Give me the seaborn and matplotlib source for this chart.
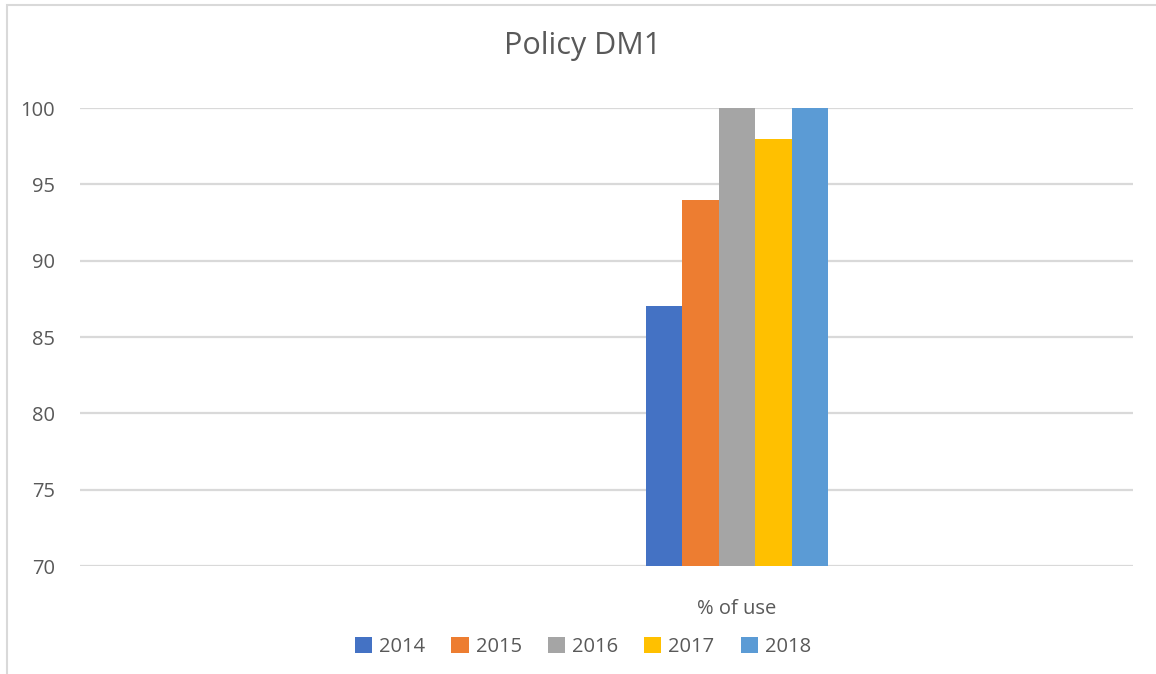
import matplotlib
matplotlib.use("Agg")
import matplotlib.pyplot as plt
import pandas as pd
import seaborn as sns
from matplotlib.patches import Rectangle

# data
category = ["% of use"]
years = ["2014", "2015", "2016", "2017", "2018"]
values = [87, 94, 100, 98, 100]
colors = ["#4472C4", "#ED7D31", "#A5A5A5", "#FFC000", "#5B9BD5"]

df = pd.DataFrame({
    "metric": category * len(years),
    "year": years,
    "value": values,
})

sns.set_style("white")
plt.rcParams["font.family"] = ["Open Sans", "DejaVu Sans"]
text_col = "#595959"
grid_col = "#D9D9D9"

fig = plt.figure(figsize=(11.56, 6.74), dpi=100)
ax = fig.add_axes([80 / 1156, 1 - 566 / 674, 1053 / 1156, 458 / 674])

sns.barplot(data=df, x="metric", y="value", hue="year", palette=colors,
            saturation=1, width=0.8, linewidth=0, ax=ax, zorder=3)

ax.set_ylim(70, 100)
ax.set_yticks(range(70, 101, 5))
ax.set_xlim(-2.888, 1.741)
ax.yaxis.grid(True, color=grid_col, linewidth=1.6, zorder=0)
ax.set_axisbelow(True)
for s in ax.spines.values():
    s.set_visible(False)
ax.tick_params(axis="both", length=0, labelsize=14.5, colors=text_col)
ax.tick_params(axis="y", pad=18)
ax.tick_params(axis="x", pad=24)
ax.set_xlabel("")
ax.set_ylabel("")

fig.text(583 / 1156, 1 - 46 / 674, "Policy DM1", ha="center", va="center",
         fontsize=22, color=text_col)

ax.legend(loc="center", bbox_to_anchor=(583 / 1156, 1 - 647 / 674),
          bbox_transform=fig.transFigure, ncol=5, frameon=False,
          fontsize=14.5, handlelength=0.85, handleheight=0.85,
          handletextpad=0.35, columnspacing=1.3, labelcolor=text_col)

# chart frame (right and bottom sides are cut off in the reference)
fig.patches.append(Rectangle((7 / 1156, -0.1), 1.2, 1 - 5 / 674 + 0.1,
                             transform=fig.transFigure, fill=False,
                             edgecolor=grid_col, linewidth=1.5))

fig.savefig("out.png", dpi=100)
plt.close(fig)
